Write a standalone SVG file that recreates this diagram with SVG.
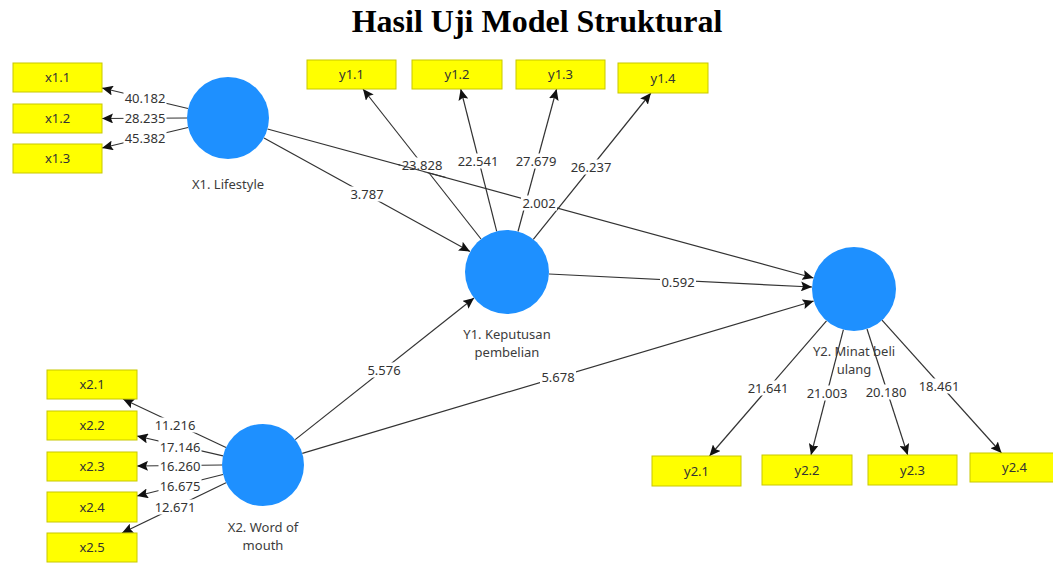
<svg xmlns="http://www.w3.org/2000/svg" width="1053" height="563" viewBox="0 0 1053 563">
<style>
.title{font-family:"Liberation Serif",serif;font-weight:bold;font-size:32px;fill:#000;text-anchor:middle}
.box{fill:#ffff00;stroke:#c8c800;stroke-width:1}
.bt{font-family:"Noto Sans","Liberation Sans",sans-serif;font-size:13px;fill:#333;text-anchor:middle}
.lv{fill:#1e90ff}
.lt{font-family:"Noto Sans","Liberation Sans",sans-serif;font-size:13px;fill:#3c3c3c;text-anchor:middle}
.e{stroke:#333;stroke-width:1.2;fill:none;marker-end:url(#ah)}
.p{stroke:#333;stroke-width:1.2;fill:none}
.bg{fill:#fff}
.n{font-family:"Noto Sans","Liberation Sans",sans-serif;font-size:13px;fill:#333;text-anchor:middle}
</style>
<defs>
<marker id="ah" markerUnits="userSpaceOnUse" markerWidth="12" markerHeight="10" refX="11" refY="5" orient="auto">
<path d="M0,0 L11,5 L0,10 L2,5 z" fill="#111"/>
</marker>
</defs>
<rect width="1053" height="563" fill="#fff"/>
<text class="title" x="537" y="32">Hasil Uji Model Struktural</text>

<g id="connectors">
<line class="e" x1="188" y1="108.5" x2="102" y2="88"/>
<line class="e" x1="187" y1="118" x2="102" y2="118.5"/>
<line class="e" x1="188" y1="127.5" x2="102" y2="148"/>
<line class="e" x1="264" y1="138" x2="470" y2="251.5"/>
<line class="e" x1="267.5" y1="129" x2="813.5" y2="278"/>
<line class="e" x1="481" y1="239" x2="363" y2="89"/>
<line class="e" x1="496.7" y1="231.3" x2="460.7" y2="89"/>
<line class="e" x1="518" y1="231.5" x2="556.6" y2="89"/>
<line class="e" x1="533.3" y1="239.3" x2="650.9" y2="93"/>
<line class="e" x1="549" y1="274" x2="812" y2="287"/>
<line class="e" x1="295.2" y1="439.6" x2="474" y2="298"/>
<line class="e" x1="302.3" y1="453.3" x2="813.7" y2="301"/>
<line class="e" x1="226" y1="447.5" x2="123" y2="399"/>
<line class="e" x1="223" y1="455.8" x2="137" y2="436"/>
<line class="e" x1="222" y1="465" x2="137" y2="466"/>
<line class="e" x1="223" y1="474.5" x2="137" y2="496"/>
<line class="e" x1="226" y1="482.8" x2="122" y2="533"/>
<line class="e" x1="826.5" y1="320.8" x2="709.5" y2="456"/>
<line class="e" x1="843.4" y1="329.7" x2="811" y2="455"/>
<line class="e" x1="867" y1="329" x2="907.7" y2="455"/>
<line class="e" x1="882" y1="320.2" x2="1001.5" y2="453"/>

<rect class="bg" x="123.5" y="90.5" width="43" height="15"/>
<rect class="bg" x="123.5" y="110.5" width="43" height="15"/>
<rect class="bg" x="123.5" y="130.5" width="43" height="15"/>
<rect class="bg" x="349" y="186.5" width="36" height="15"/>
<rect class="bg" x="521" y="195.5" width="36" height="15"/>
<rect class="bg" x="400.5" y="157.5" width="43" height="15"/>
<rect class="bg" x="456.5" y="153.5" width="43" height="15"/>
<rect class="bg" x="514.5" y="153.5" width="43" height="15"/>
<rect class="bg" x="569.5" y="159.5" width="43" height="15"/>
<rect class="bg" x="660" y="274.5" width="36" height="15"/>
<rect class="bg" x="366" y="362.5" width="36" height="15"/>
<rect class="bg" x="540" y="369.5" width="36" height="15"/>
<rect class="bg" x="153.5" y="417.5" width="43" height="15"/>
<rect class="bg" x="158.5" y="439.5" width="43" height="15"/>
<rect class="bg" x="158.5" y="458.5" width="43" height="15"/>
<rect class="bg" x="158.5" y="478.5" width="43" height="15"/>
<rect class="bg" x="153.5" y="499.5" width="43" height="15"/>
<rect class="bg" x="746.5" y="380.5" width="43" height="15"/>
<rect class="bg" x="805.5" y="385.5" width="43" height="15"/>
<rect class="bg" x="864.5" y="384.5" width="43" height="15"/>
<rect class="bg" x="917.5" y="378.5" width="43" height="15"/>

<text class="n" x="145" y="102.5">40.182</text>
<text class="n" x="145" y="122.5">28.235</text>
<text class="n" x="145" y="142.5">45.382</text>
<text class="n" x="367" y="198.5">3.787</text>
<text class="n" x="539" y="207.5">2.002</text>
<text class="n" x="422" y="169.5">23.828</text>
<text class="n" x="478" y="165.5">22.541</text>
<text class="n" x="536" y="165.5">27.679</text>
<text class="n" x="591" y="171.5">26.237</text>
<text class="n" x="678" y="286.5">0.592</text>
<text class="n" x="384" y="374.5">5.576</text>
<text class="n" x="558" y="381.5">5.678</text>
<text class="n" x="175" y="429.5">11.216</text>
<text class="n" x="180" y="451.5">17.146</text>
<text class="n" x="180" y="470.5">16.260</text>
<text class="n" x="180" y="490.5">16.675</text>
<text class="n" x="175" y="511.5">12.671</text>
<text class="n" x="768" y="392.5">21.641</text>
<text class="n" x="827" y="397.5">21.003</text>
<text class="n" x="886" y="396.5">20.180</text>
<text class="n" x="939" y="390.5">18.461</text>
<line class="p" x1="398" y1="164.5" x2="446" y2="177.5"/>
</g>

<g id="X1"><circle class="lv" cx="228" cy="118" r="41"/><text class="lt" x="228" y="189">X1. Lifestyle</text></g>
<g id="Y1"><circle class="lv" cx="507" cy="272" r="42"/><text class="lt" x="507" y="339">Y1. Keputusan</text><text class="lt" x="507" y="357">pembelian</text></g>
<g id="Y2"><circle class="lv" cx="854" cy="289" r="42"/><text class="lt" x="854" y="356">Y2. Minat beli</text><text class="lt" x="854" y="374">ulang</text></g>
<g id="X2"><circle class="lv" cx="263" cy="465" r="41"/><text class="lt" x="263" y="532">X2. Word of</text><text class="lt" x="263" y="550">mouth</text></g>

<g id="x1.1"><rect class="box" x="13" y="63" width="89" height="29"/><text class="bt" x="57.5" y="82">x1.1</text></g>
<g id="x1.2"><rect class="box" x="13" y="104" width="89" height="29"/><text class="bt" x="57.5" y="123">x1.2</text></g>
<g id="x1.3"><rect class="box" x="13" y="144" width="89" height="29"/><text class="bt" x="57.5" y="163">x1.3</text></g>
<g id="y1.1"><rect class="box" x="307" y="60" width="89" height="29"/><text class="bt" x="351.5" y="79">y1.1</text></g>
<g id="y1.2"><rect class="box" x="412" y="60" width="90" height="29"/><text class="bt" x="457" y="79">y1.2</text></g>
<g id="y1.3"><rect class="box" x="516" y="60" width="89" height="29"/><text class="bt" x="560.5" y="79">y1.3</text></g>
<g id="y1.4"><rect class="box" x="618" y="63" width="90" height="30"/><text class="bt" x="663" y="82.5">y1.4</text></g>
<g id="x2.1"><rect class="box" x="47" y="370" width="90" height="29"/><text class="bt" x="92" y="389">x2.1</text></g>
<g id="x2.2"><rect class="box" x="47" y="411" width="90" height="29"/><text class="bt" x="92" y="430">x2.2</text></g>
<g id="x2.3"><rect class="box" x="47" y="452" width="90" height="29"/><text class="bt" x="92" y="471">x2.3</text></g>
<g id="x2.4"><rect class="box" x="47" y="492" width="90" height="30"/><text class="bt" x="92" y="511.5">x2.4</text></g>
<g id="x2.5"><rect class="box" x="47" y="533" width="90" height="29"/><text class="bt" x="92" y="552">x2.5</text></g>
<g id="y2.1"><rect class="box" x="652" y="456" width="89" height="30"/><text class="bt" x="696.5" y="475.5">y2.1</text></g>
<g id="y2.2"><rect class="box" x="762" y="455" width="90" height="30"/><text class="bt" x="807" y="474.5">y2.2</text></g>
<g id="y2.3"><rect class="box" x="868" y="455" width="89" height="30"/><text class="bt" x="912.5" y="474.5">y2.3</text></g>
<g id="y2.4"><rect class="box" x="970" y="453" width="89" height="29"/><text class="bt" x="1014.5" y="472">y2.4</text></g>
</svg>
